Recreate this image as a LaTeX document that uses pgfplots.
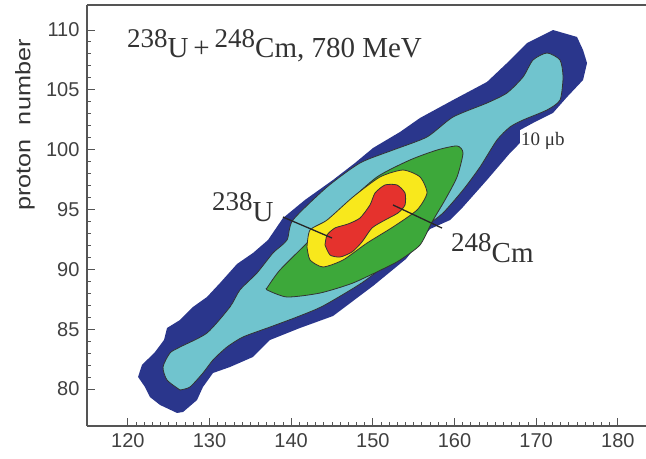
\documentclass[border=0pt]{standalone}
\usepackage{fontspec}
\setmainfont{Liberation Sans}
\newfontfamily\seriffont{Liberation Serif}
\usepackage{pgfplots}
\pgfplotsset{compat=1.18}
\usetikzlibrary{calc}
\definecolor{dblue}{HTML}{2A368C}
\definecolor{lblue}{HTML}{70C4CE}
\definecolor{cgreen}{HTML}{3DA83A}
\definecolor{cyellow}{HTML}{F8E81C}
\definecolor{cred}{HTML}{E5322D}
\definecolor{axgray}{HTML}{555555}

\begin{document}
\begin{tikzpicture}
\begin{axis}[
  scale only axis,
  width=559pt, height=421pt,
  xmin=115, xmax=183.45,
  ymin=76.91, ymax=112.09,
  axis x line*=bottom,
  axis y line*=left,
  axis line style={-, draw=axgray, line width=1.3pt},
  xtick={120,130,...,180},
  ytick={80,85,...,110},
  minor x tick num=9,
  minor y tick num=4,
  tick align=inside,
  major tick length=8pt,
  minor tick length=4pt,
  tick style={draw=axgray, line width=1pt},
  /pgf/number format/assume math mode=true,
  ticklabel style={font=\fontsize{20}{24}\selectfont, text=black!75},
  xticklabel style={yshift=-4pt},
  yticklabel style={xshift=-4pt},
  ylabel={\scalebox{1.2}[1]{proton\ \ number}},
  ylabel style={at={(axis description cs:-0.111,0.715)}, anchor=center,
    font=\fontsize{21}{25}\selectfont, text=black!80},
]
% outer contour (dark blue)
\addplot[fill=dblue, draw=none] coordinates {
  (126.02,78.00) (123.94,78.67) (122.71,79.33) (122.10,80.17) (121.25,81.01)
  (121.73,82.01) (123.33,83.09) (124.43,84.10) (124.80,85.10) (126.39,85.77)
  (127.98,86.86) (129.69,87.69) (131.29,88.86) (133.37,90.45) (135.33,91.37)
  (137.16,92.45) (139.00,94.29) (141.69,95.80) (145.12,97.47) (147.82,98.89)
  (150.02,100.14) (153.33,101.48) (155.78,102.65) (159.82,104.15) (163.98,105.66)
  (166.43,107.24) (168.88,108.91) (172.06,110.00) (175.00,109.42) (175.74,108.33)
  (176.23,107.24) (175.74,105.82) (173.78,104.40) (172.06,103.07) (169.61,102.23)
  (168.02,101.64) (168.02,100.56) (166.80,99.72) (163.98,97.47) (161.04,95.21)
  (159.45,94.12) (157.00,93.37) (154.06,90.87) (150.02,88.61) (145.12,86.10)
  (141.08,85.10) (137.41,84.10) (135.33,82.68) (132.51,81.84) (130.43,81.34)
  (129.20,80.17) (128.47,79.08) (126.76,78.08) (126.02,78.00)
};
% light blue
\addplot[fill=lblue, draw=black!80, line width=0.8pt, smooth, tension=0.4] coordinates {
  (126.39,79.92) (124.80,80.75) (124.31,81.84) (125.16,83.01) (126.39,83.51)
  (129.69,84.68) (132.51,86.86) (133.73,88.28) (135.82,89.70) (137.78,91.37)
  (139.49,92.45) (140.22,94.12) (144.39,96.88) (148.43,98.89) (152.47,99.97)
  (156.63,101.06) (159.82,102.73) (163.98,103.90) (166.43,104.74) (168.39,106.07)
  (169.61,107.49) (171.33,108.08) (172.92,107.49) (173.29,106.07) (172.92,104.15)
  (171.33,103.32) (168.39,102.48) (166.80,101.90) (165.20,100.81) (163.12,98.55)
  (161.04,96.63) (158.59,94.71) (156.14,93.37) (152.84,91.12) (148.80,88.94)
  (143.90,86.94) (140.71,86.02) (137.41,85.18) (134.10,84.35) (132.14,83.51)
  (130.43,82.43) (129.20,81.34) (127.61,80.17) (126.39,79.92)
};
% green
\addplot[fill=cgreen, draw=black!80, line width=0.8pt, smooth, tension=0.4] coordinates {
  (137.04,88.44) (138.63,89.95) (142.31,92.45) (146.35,95.21) (150.51,97.72)
  (154.55,99.14) (157.86,99.97) (160.31,100.31) (161.04,99.72) (160.31,97.72)
  (158.84,95.80) (157.25,93.96) (155.78,92.04) (153.33,90.78) (151.74,90.20)
  (147.57,88.86) (143.53,88.02) (139.49,87.69) (137.04,88.28) (137.04,88.44)
};
% yellow
\addplot[fill=cyellow, draw=black!80, line width=0.8pt, smooth, tension=0.4] coordinates {
  (141.94,91.87) (142.31,93.29) (144.39,94.12) (147.57,96.05) (150.88,97.72)
  (153.69,98.30) (155.78,97.72) (156.63,96.38) (155.41,94.96) (152.47,93.54)
  (149.29,92.20) (146.35,90.78) (143.90,90.20) (142.31,90.78) (141.94,91.87)
};
% red
\addplot[fill=cred, draw=black!80, line width=0.8pt, smooth, tension=0.4] coordinates {
  (144.14,92.04) (144.39,92.87) (145.37,93.46) (146.96,93.79) (148.43,94.29)
  (149.65,95.38) (150.27,96.38) (151.49,97.05) (152.96,97.05) (153.94,96.38)
  (153.94,95.38) (153.08,94.71) (151.49,94.12) (149.90,93.46) (148.67,92.29)
  (147.45,91.45) (145.98,91.03) (144.76,91.20) (144.14,92.04)
};
\draw[black!85, line width=1.3pt] (axis cs:139.0,94.37) -- (axis cs:145.0,92.62);
\draw[black!85, line width=1.3pt] (axis cs:152.47,95.38) -- (axis cs:158.47,93.45);
\node[anchor=base west, inner sep=0, text=black!80, font=\seriffont\fontsize{29}{34}\selectfont]
  at (axis cs:119.9,107.74) {\raisebox{10pt}{\fontsize{27}{30}\selectfont 238}U\,+\,\raisebox{10pt}{\fontsize{27}{30}\selectfont 248}Cm, 780 MeV};
\node[anchor=base west, inner sep=0, text=black!80, font=\seriffont\fontsize{29}{34}\selectfont]
  at (axis cs:130.31,93.96) {\raisebox{11pt}{\fontsize{27}{30}\selectfont 238}U};
\node[anchor=base west, inner sep=0, text=black!80, font=\seriffont\fontsize{29}{34}\selectfont]
  at (axis cs:159.57,90.61) {\raisebox{11pt}{\fontsize{27}{30}\selectfont 248}Cm};
\node[anchor=base west, inner sep=0, text=black!80, font=\seriffont\fontsize{19}{22}\selectfont]
  at (axis cs:168.14,100.31) {10 μb};
\draw[axgray, line width=1.6pt] (rel axis cs:0,1) -- (rel axis cs:1,1);
\coordinate (bl) at (rel axis cs:0,0);
\coordinate (tr) at (rel axis cs:1,1);
\end{axis}
\pgfresetboundingbox
\path ($(bl)+(-87pt,-32pt)$) rectangle ($(tr)+(0pt,5pt)$);
\end{tikzpicture}
\end{document}
